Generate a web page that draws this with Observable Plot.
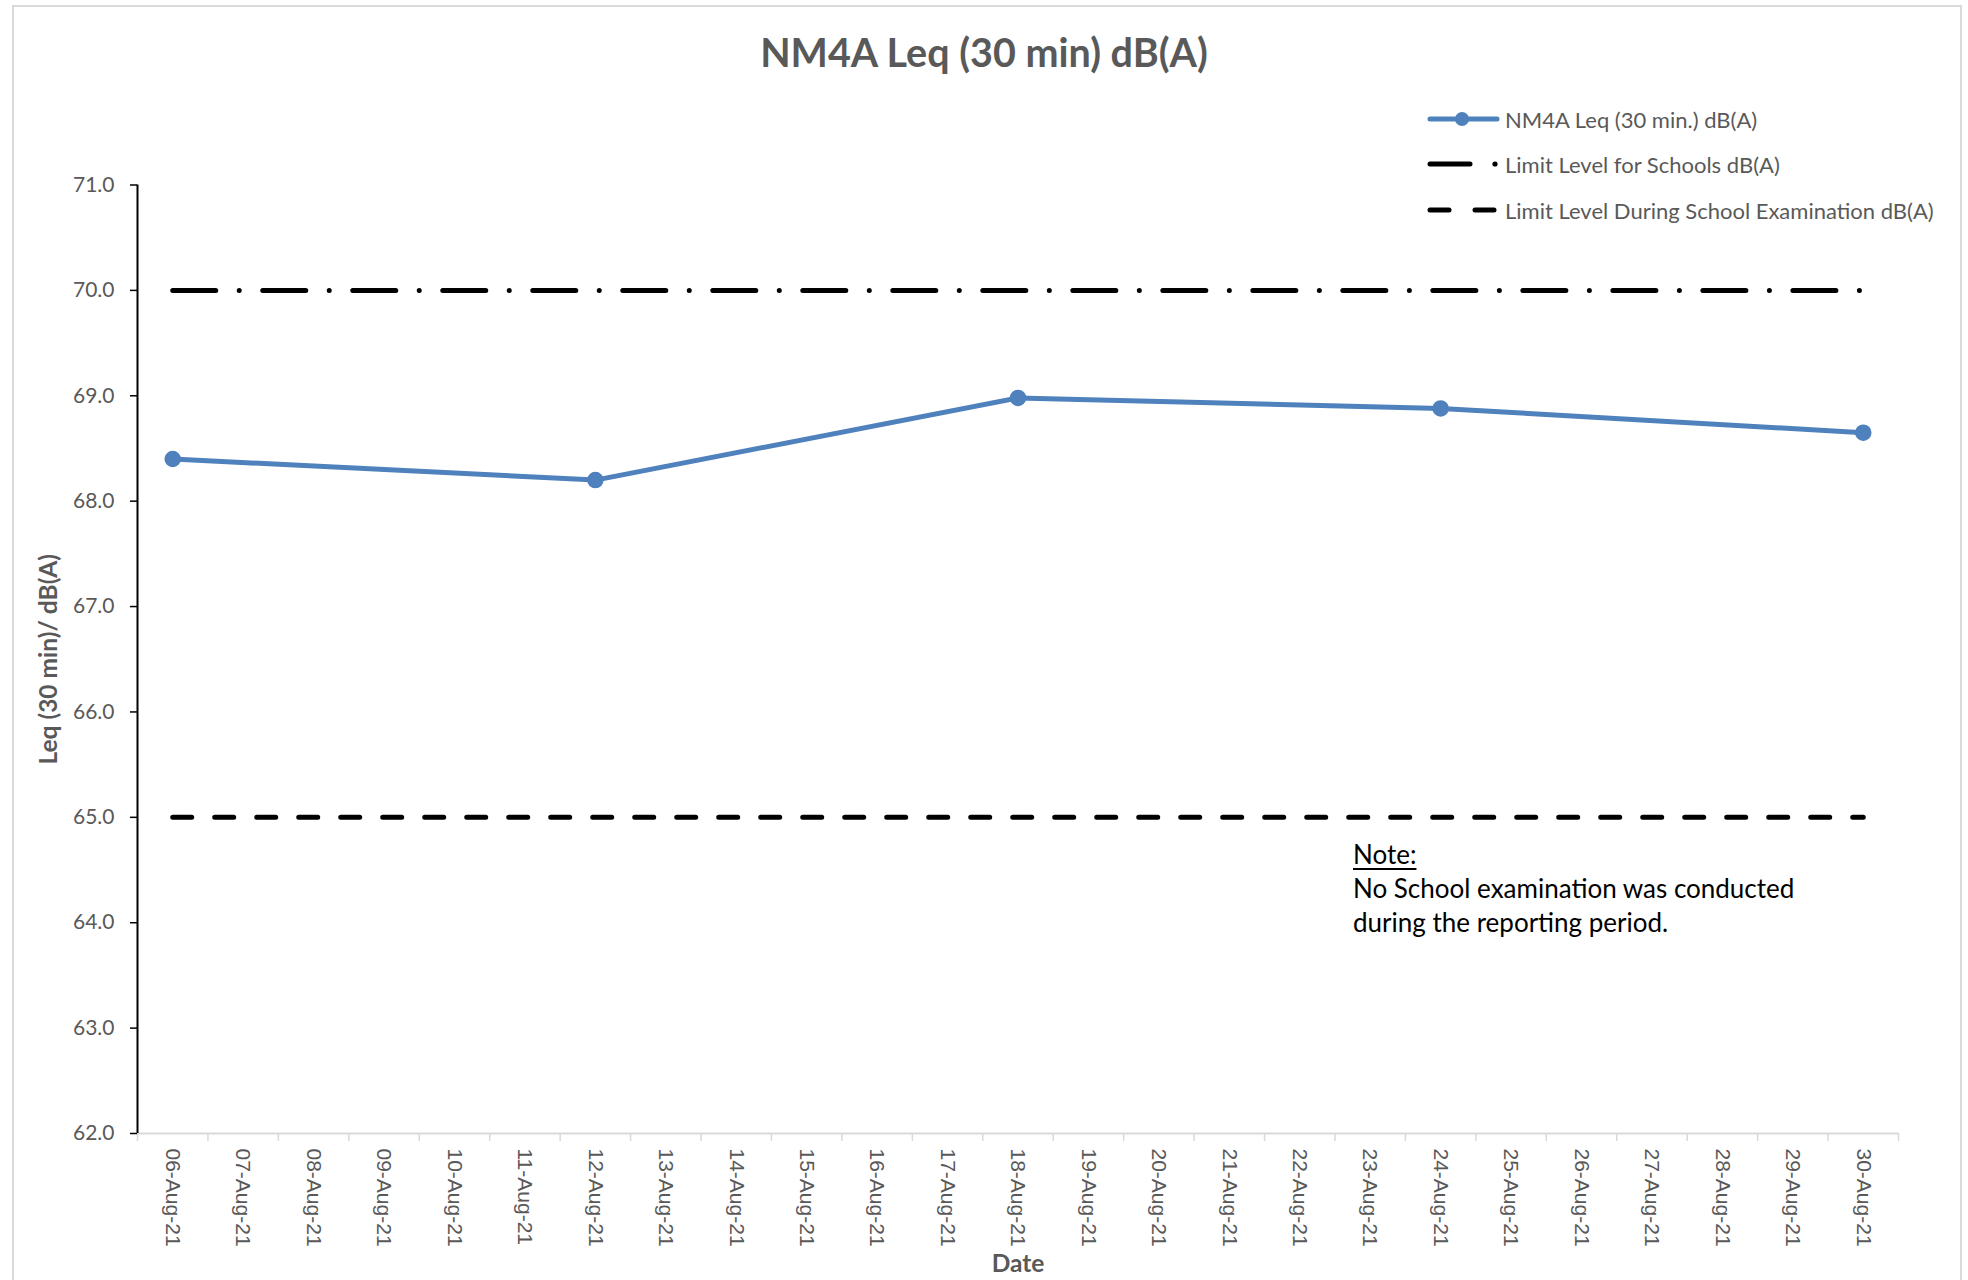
<!DOCTYPE html>
<html>
<head>
<meta charset="utf-8">
<script src="https://cdn.jsdelivr.net/npm/d3@7"></script>
<script src="https://cdn.jsdelivr.net/npm/@observablehq/plot@0.6"></script>
<style>
  html, body { margin: 0; padding: 0; background: #fff; }
  body { width: 1968px; height: 1280px; position: relative; overflow: hidden; font-family: Lato, "Open Sans", sans-serif; }
  #frame { position: absolute; left: 12px; top: 5px; width: 1950px; height: 1320px; border: 2px solid #d9d9d9; box-sizing: border-box; }
  #chart { position: absolute; left: 0; top: 0; }
  #title { position: absolute; left: 0; top: 27px; width: 1968px; text-align: center; font-weight: bold; font-size: 39.5px; color: #595959; line-height: 50px; }
  .leg { position: absolute; left: 1427px; height: 30px; display: flex; align-items: center; font-size: 22px; color: #595959; white-space: nowrap; }
  .leg svg { width: 76px; height: 20px; margin-right: 2px; }
  #note { position: absolute; left: 1353px; top: 837px; font-size: 26px; line-height: 34px; color: #000; }
  #note u { text-decoration-thickness: 2px; text-underline-offset: 4px; }
</style>
</head>
<body>
<div id="frame"></div>
<div id="chart"></div>
<div id="title"></div>
<div id="legend"></div>
<div id="note"></div>
<script>
// ---- data ----
const chartTitle = "NM4A Leq (30 min) dB(A)";
const dateLabels = ["06-Aug-21","07-Aug-21","08-Aug-21","09-Aug-21","10-Aug-21","11-Aug-21","12-Aug-21","13-Aug-21","14-Aug-21","15-Aug-21","16-Aug-21","17-Aug-21","18-Aug-21","19-Aug-21","20-Aug-21","21-Aug-21","22-Aug-21","23-Aug-21","24-Aug-21","25-Aug-21","26-Aug-21","27-Aug-21","28-Aug-21","29-Aug-21","30-Aug-21"];
const seriesDates = ["06-Aug-21","12-Aug-21","18-Aug-21","24-Aug-21","30-Aug-21"];
const seriesValues = [68.4, 68.2, 68.98, 68.88, 68.65];
const limitSchools = 70;
const limitExam = 65;
const yTicks = [62, 63, 64, 65, 66, 67, 68, 69, 70, 71];
const seriesNames = ["NM4A Leq (30 min.) dB(A)", "Limit Level for Schools dB(A)", "Limit Level During School Examination dB(A)"];
const yLabel = "Leq (30 min)/ dB(A)";
const xLabel = "Date";
const noteHead = "Note:";
const noteLines = ["No School examination was conducted", "during the reporting period."];

// ---- derived tables ----
const parse = d3.utcParse("%d-%b-%y");
const fmt = d3.utcFormat("%d-%b-%y");
const days = dateLabels.map(parse);
const half = 12 * 3600 * 1000;
const xDomain = [new Date(+days[0] - half), new Date(+days[days.length - 1] + half)];
const boundaries = days.map(d => new Date(+d - half)).concat([xDomain[1]]);
const series = seriesDates.map((s, i) => ({date: parse(s), value: seriesValues[i]}));
const limits = days.map(d => ({date: d, school: limitSchools, exam: limitExam}));

const blue = "#4f81bd";
const dashDot = "43,23.5,0.01,23.5";
const dashed = "19,23";

const chart = Plot.plot({
  width: 1968,
  height: 1280,
  marginTop: 184.5,
  marginBottom: 147,
  marginLeft: 137,
  marginRight: 70,
  x: {type: "utc", domain: xDomain},
  y: {domain: [yTicks[0], yTicks[yTicks.length - 1]]},
  style: {fontFamily: "Lato, sans-serif", background: "transparent", overflow: "visible"},
  marks: [
    Plot.ruleY([yTicks[0]], {stroke: "#d9d9d9", strokeWidth: 2}),
    Plot.axisX(boundaries, {tickSize: 8, stroke: "#d9d9d9", strokeWidth: 1.5, tickFormat: () => "", label: null}),
    Plot.axisX(days, {tickSize: 0, tickPadding: 15, tickRotate: 90, tickFormat: fmt, fontSize: 21, fill: "#595959", fontFamily: "Liberation Sans, Arial, sans-serif", label: null}),
    Plot.axisY(yTicks, {tickSize: 7, tickPadding: 16, stroke: "black", strokeWidth: 1.5, fill: "#595959", fontSize: 21, tickFormat: d3.format(".1f"), label: null}),
    Plot.ruleX([xDomain[0]], {stroke: "black", strokeWidth: 2}),
    Plot.lineY(limits, {x: "date", y: "school", stroke: "black", strokeWidth: 5, strokeLinecap: "round", strokeDasharray: dashDot}),
    Plot.lineY(limits, {x: "date", y: "exam", stroke: "black", strokeWidth: 5, strokeLinecap: "round", strokeDasharray: dashed}),
    Plot.line(series, {x: "date", y: "value", stroke: blue, strokeWidth: 5}),
    Plot.dot(series, {x: "date", y: "value", r: 7.5, fill: blue, stroke: blue}),
    Plot.text([yLabel], {frameAnchor: "left", textAnchor: "middle", rotate: -90, dx: -88, fontWeight: "bold", fontSize: 24.5, fill: "#595959"}),
    Plot.text([xLabel], {frameAnchor: "bottom", textAnchor: "middle", dy: 138, fontWeight: "bold", fontSize: 24.5, fill: "#595959"})
  ]
});
document.getElementById("chart").appendChild(chart);

document.getElementById("title").textContent = chartTitle;

// legend
const legendRowsY = [104, 149, 195];
const samples = [
  `<svg viewBox="0 0 76 20"><line x1="3" y1="10" x2="70" y2="10" stroke="${blue}" stroke-width="5" stroke-linecap="round"/><circle cx="35" cy="10" r="7" fill="${blue}"/></svg>`,
  `<svg viewBox="0 0 76 20"><line x1="3" y1="10" x2="43" y2="10" stroke="black" stroke-width="5" stroke-linecap="round"/><circle cx="68" cy="10" r="2.6" fill="black"/></svg>`,
  `<svg viewBox="0 0 76 20"><line x1="3" y1="10" x2="22" y2="10" stroke="black" stroke-width="5" stroke-linecap="round"/><line x1="48" y1="10" x2="67" y2="10" stroke="black" stroke-width="5" stroke-linecap="round"/></svg>`
];
const legend = document.getElementById("legend");
seriesNames.forEach((name, i) => {
  const row = document.createElement("div");
  row.className = "leg";
  row.style.top = legendRowsY[i] + "px";
  row.innerHTML = samples[i] + `<span>${name}</span>`;
  legend.appendChild(row);
});

// note
document.getElementById("note").innerHTML = `<u>${noteHead}</u><br>${noteLines.join("<br>")}`;
</script>
</body>
</html>
